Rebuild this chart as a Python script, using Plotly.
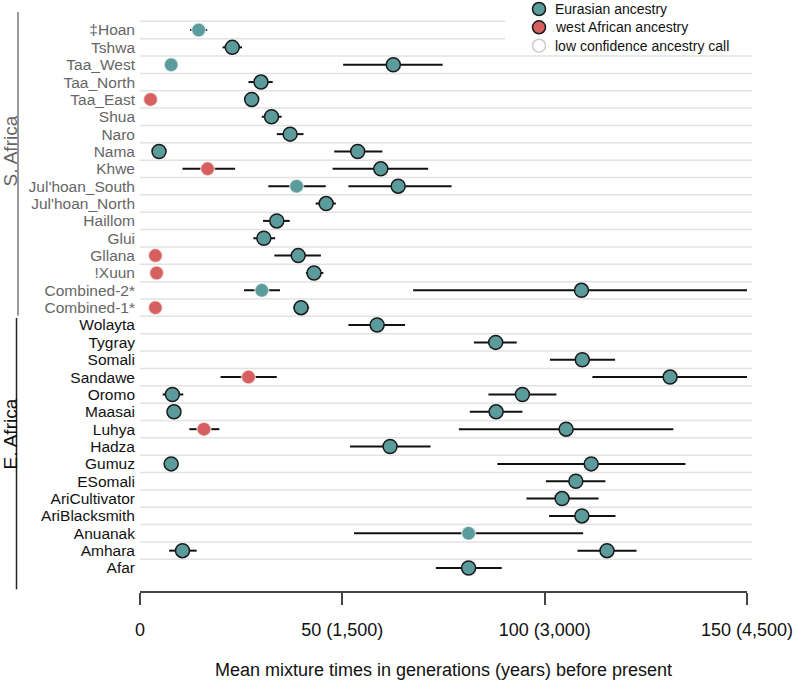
import plotly.graph_objects as go

# ---------------- data ----------------
populations = ["‡Hoan", "Tshwa", "Taa_West", "Taa_North", "Taa_East", "Shua", "Naro", "Nama",
               "Khwe", "Jul'hoan_South", "Jul'hoan_North", "Haillom", "Glui", "Gllana", "!Xuun",
               "Combined-2*", "Combined-1*",
               "Wolayta", "Tygray", "Somali", "Sandawe", "Oromo", "Maasai", "Luhya", "Hadza",
               "Gumuz", "ESomali", "AriCultivator", "AriBlacksmith", "Anuanak", "Amhara", "Afar"]
regions = ["S"] * 17 + ["E"] * 15

# mixture events: population, mean, lower, upper, ancestry (E=Eurasian, W=west African), low confidence
event_pop = ["‡Hoan", "Tshwa", "Taa_West", "Taa_West", "Taa_North", "Taa_East", "Taa_East",
             "Shua", "Naro", "Nama", "Nama", "Khwe", "Khwe", "Jul'hoan_South", "Jul'hoan_South",
             "Jul'hoan_North", "Haillom", "Glui", "Gllana", "Gllana", "!Xuun", "!Xuun",
             "Combined-2*", "Combined-2*", "Combined-1*", "Combined-1*",
             "Wolayta", "Tygray", "Somali", "Sandawe", "Sandawe", "Oromo", "Oromo",
             "Maasai", "Maasai", "Luhya", "Luhya", "Hadza", "Gumuz", "Gumuz", "ESomali",
             "AriCultivator", "AriBlacksmith", "Anuanak", "Amhara", "Amhara", "Afar"]
event_mean = [14.5, 22.8, 7.7, 62.6, 29.9, 2.6, 27.6,
              32.5, 37.1, 4.7, 53.8, 16.7, 59.5, 38.7, 63.8,
              46.0, 33.8, 30.6, 3.8, 39.1, 4.1, 43.0,
              30.1, 109.1, 3.8, 39.8,
              58.6, 87.9, 109.3, 26.8, 131.0, 8.0, 94.5,
              8.4, 88.0, 15.8, 105.3, 61.8, 7.7, 111.5, 107.7,
              104.3, 109.2, 81.2, 10.5, 115.4, 81.2]
event_lo = [12.4, 20.4, 7.7, 50.2, 26.8, 2.6, 26.4,
            30.1, 33.8, 4.7, 48.0, 10.5, 47.6, 31.7, 51.5,
            43.4, 30.4, 28.0, 3.8, 33.2, 4.1, 41.0,
            25.7, 67.5, 3.8, 37.9,
            51.5, 82.5, 101.3, 19.9, 111.8, 5.6, 86.1,
            8.4, 81.5, 12.2, 78.8, 51.9, 6.8, 88.3, 100.3,
            95.5, 101.1, 52.9, 7.2, 108.1, 73.1]
event_hi = [16.6, 25.2, 7.7, 74.8, 32.8, 2.6, 28.8,
            35.0, 40.4, 4.7, 59.9, 23.5, 71.2, 45.9, 77.0,
            48.4, 37.0, 33.4, 3.8, 44.7, 4.1, 45.3,
            34.6, 150.0, 3.8, 41.8,
            65.5, 93.1, 117.4, 33.8, 150.0, 10.7, 102.9,
            8.4, 94.5, 19.6, 131.8, 71.8, 8.6, 134.8, 115.0,
            113.3, 117.5, 109.5, 14.0, 122.7, 89.4]
event_anc = ["E", "E", "E", "E", "E", "W", "E",
             "E", "E", "E", "E", "W", "E", "E", "E",
             "E", "E", "E", "W", "E", "W", "E",
             "E", "E", "W", "E",
             "E", "E", "E", "W", "E", "E", "E",
             "E", "E", "W", "E", "E", "E", "E", "E",
             "E", "E", "E", "E", "E", "E"]
event_low = [True, False, True, False, False, True, False,
             False, False, False, False, True, False, True, False,
             False, False, False, True, False, True, False,
             True, False, True, False,
             False, False, False, True, False, False, False,
             False, False, True, False, False, False, False, False,
             False, False, True, False, False, False]

x_tickvals = [0, 50, 100, 150]
x_ticktext = ["0", "50 (1,500)", "100 (3,000)", "150 (4,500)"]
x_title = "Mean mixture times in generations (years) before present"
region_titles = {"S": "S. Africa", "E": "E. Africa"}
legend_labels = ["Eurasian ancestry", "west African ancestry", "low confidence ancestry call"]

# ---------------- style ----------------
TEAL = "#5b9b9c"
RED = "#d65f5f"
FONT = "Liberation Sans, Arial, Helvetica, sans-serif"
S_COLOR = "#666666"
E_COLOR = "#111111"
LOW_EDGE = "rgba(255,255,255,0.55)"

row_of = {p: i for i, p in enumerate(populations)}

fig = go.Figure()

groups = [("E", False, TEAL, "#1a1a1a"), ("E", True, TEAL, LOW_EDGE),
          ("W", True, RED, LOW_EDGE), ("W", False, RED, "#1a1a1a")]
for anc, low, fill, edge in groups:
    idx = [k for k in range(len(event_pop)) if event_anc[k] == anc and event_low[k] == low]
    if not idx:
        continue
    xs = [event_mean[k] for k in idx]
    ys = [row_of[event_pop[k]] for k in idx]
    plus = [event_hi[k] - event_mean[k] for k in idx]
    minus = [event_mean[k] - event_lo[k] for k in idx]
    fig.add_trace(go.Scatter(
        x=xs, y=ys, mode="markers", showlegend=False, hoverinfo="skip", cliponaxis=False,
        marker=dict(size=14, color=fill, line=dict(color=edge, width=1.5)),
        error_x=dict(type="data", symmetric=False, array=plus, arrayminus=minus,
                     color="#111111", thickness=2, width=0),
    ))

# ---------------- layout geometry (page pixels; body margin removed below) ----------------
W, H = 799, 685
plot_left, plot_right, plot_top, plot_bottom = 140, 747, 12, 591
L, R, T, B = plot_left, W - plot_right, plot_top, H - plot_bottom
pw, ph = W - L - R, H - T - B
row_px = 17.355
first_row_px = 30
y_top = -(first_row_px - plot_top) / row_px
y_bottom = (len(populations) - 1) + (plot_bottom - (first_row_px + row_px * (len(populations) - 1))) / row_px


def px_x(px):
    return (px - plot_left) / pw


def px_y(py):
    return (plot_bottom - py) / ph


shapes = []
# horizontal separators above each row
for i in range(len(populations)):
    shapes.append(dict(type="line", xref="paper", yref="y", x0=0, x1=px_x(752),
                       y0=i - 0.5, y1=i - 0.5, line=dict(color="#e2e2e2", width=1.5), layer="below"))
# white patch behind legend
shapes.append(dict(type="rect", xref="paper", yref="paper", x0=px_x(505), x1=px_x(760),
                   y0=px_y(50), y1=px_y(0), fillcolor="white", line=dict(width=0), layer="below"))

# region brackets
s_rows = [i for i, r in enumerate(regions) if r == "S"]
e_rows = [i for i, r in enumerate(regions) if r == "E"]
shapes.append(dict(type="line", xref="paper", yref="y", x0=px_x(18), x1=px_x(18),
                   y0=y_top, y1=max(s_rows) + 0.45, line=dict(color="#777777", width=1.5)))
shapes.append(dict(type="line", xref="paper", yref="y", x0=px_x(16.5), x1=px_x(16.5),
                   y0=min(e_rows) - 0.4, y1=y_bottom - 0.1, line=dict(color="#222222", width=1.5)))

annotations = [
    dict(text=region_titles["S"], xref="paper", yref="paper", x=px_x(9.5), y=px_y(151),
         xanchor="center", yanchor="middle",
         textangle=-90, showarrow=False, font=dict(family=FONT, size=19, color=S_COLOR)),
    dict(text=region_titles["E"], xref="paper", yref="paper", x=px_x(9.5), y=px_y(434),
         xanchor="center", yanchor="middle",
         textangle=-90, showarrow=False, font=dict(family=FONT, size=19, color=E_COLOR)),
]

# manual legend (symbols + labels)
legend_fill = [TEAL, RED, "white"]
legend_edge = ["#1a1a1a", "#1a1a1a", "#cccccc"]
legend_cx, legend_tx, legend_r = 539, 553, 6.5
legend_cy = [9, 27.3, 45.7]
for lab, fc, ec, cy in zip(legend_labels, legend_fill, legend_edge, legend_cy):
    shapes.append(dict(type="circle", xref="paper", yref="paper",
                       x0=px_x(legend_cx - legend_r), x1=px_x(legend_cx + legend_r),
                       y0=px_y(cy + legend_r), y1=px_y(cy - legend_r),
                       fillcolor=fc, line=dict(color=ec, width=1.5), layer="above"))
    annotations.append(dict(text=lab, xref="paper", yref="paper", x=px_x(legend_tx), y=px_y(cy),
                            xanchor="left", yanchor="middle", showarrow=False,
                            font=dict(family=FONT, size=14, color="#111111")))

ticktext = [f'<span style="color:{S_COLOR if r == "S" else E_COLOR}">{p}</span>'
            for p, r in zip(populations, regions)]

fig.update_layout(
    width=W, height=H,
    margin=dict(l=L, r=R, t=T, b=B, pad=0, autoexpand=False),
    paper_bgcolor="white", plot_bgcolor="white",
    font=dict(family=FONT, color="#111111"),
    showlegend=False,
    xaxis=dict(range=[0, 150], tickvals=x_tickvals, ticktext=x_ticktext, automargin=False,
               showgrid=False, zeroline=False, showline=True, linecolor="#444444", linewidth=1.5,
               ticks="outside", ticklen=12, tickwidth=1.5, tickcolor="#444444",
               tickfont=dict(family=FONT, size=18, color="#111111"), ticklabelstandoff=10,
               title=dict(text=x_title, font=dict(family=FONT, size=18, color="#111111"), standoff=24)),
    yaxis=dict(range=[y_bottom, y_top], tickvals=list(range(len(populations))), ticktext=ticktext,
               automargin=False,
               showgrid=False, zeroline=False, showline=False, ticks="",
               tickfont=dict(family=FONT, size=15.5, color="#111111"), ticklabelstandoff=4),
    shapes=shapes, annotations=annotations,
)

fig.write_html("out.html", config={"displayModeBar": False},
               post_script="document.body.style.margin='0px';document.body.style.overflow='hidden';")
